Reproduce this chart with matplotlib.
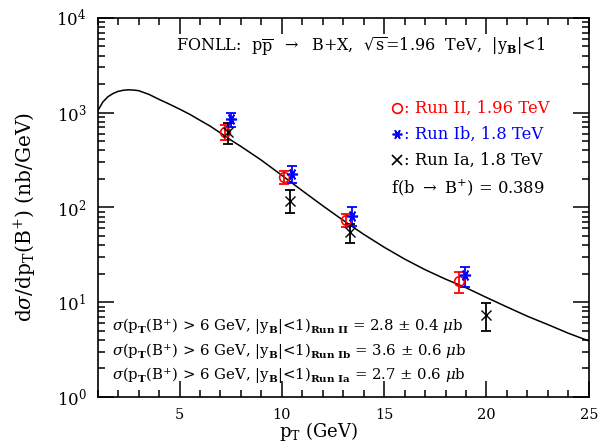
import numpy as np
import matplotlib
matplotlib.use("Agg")
import matplotlib.pyplot as plt
from matplotlib.ticker import MultipleLocator, LogLocator, NullFormatter, LogFormatterMathtext

plt.rcParams['font.family'] = ['DejaVu Serif', 'DejaVu Sans']
plt.rcParams['mathtext.fontset'] = 'dejavuserif'

# FONLL prediction, dsigma/dpT (nb/GeV)
fonll_pt = [1.0, 1.25, 1.5, 1.75, 2.0, 2.25, 2.5, 2.75, 3.0, 3.5, 4.0, 4.5, 5.0, 5.5,
            6.0, 6.5, 7.0, 7.5, 8.0, 9.0, 10.0, 11.0, 12.0, 13.0, 14.0, 15.0, 16.0,
            17.0, 18.0, 19.0, 20.0, 21.0, 22.0, 23.0, 24.0, 25.0]
fonll_xs = [1040, 1290, 1470, 1590, 1675, 1720, 1740, 1730, 1705, 1560, 1380, 1230, 1090, 960,
            830, 720, 610, 515, 440, 315, 218, 150, 104, 73, 52, 38, 28.5,
            22, 17.5, 14.2, 11.2, 8.9, 7.1, 5.8, 4.7, 3.9]

# CDF Run II, 1.96 TeV
run2_pt = [7.22, 10.12, 13.14, 18.64]
run2_xs = [617, 208, 74, 16.9]
run2_lo = [516, 177, 62, 12.4]
run2_hi = [748, 245, 85, 21.0]

# CDF Run Ib, 1.8 TeV
run1b_pt = [7.5, 10.48, 13.41, 18.97]
run1b_xs = [853, 226, 81, 19.4]
run1b_lo = [702, 183, 63, 14.6]
run1b_hi = [1000, 274, 100, 23.4]

# CDF Run Ia, 1.8 TeV
run1a_pt = [7.38, 10.38, 13.35, 19.97]
run1a_xs = [630, 118, 55.6, 7.3]
run1a_lo = [468, 87, 42.5, 5.0]
run1a_hi = [774, 153, 67, 9.75]

fig = plt.figure(figsize=(5.99, 4.46), dpi=100)
ax = fig.add_axes([0.163, 0.110, 0.820, 0.850])

ax.plot(fonll_pt, fonll_xs, color='black', lw=1.1, zorder=2)


def points(pt, xs, lo, hi, color, marker, ms, mfc='none', mew=1.2):
    xs = np.array(xs)
    err = [xs - np.array(lo), np.array(hi) - xs]
    ax.errorbar(pt, xs, yerr=err, fmt='none', ecolor=color, elinewidth=1.3,
                capsize=3.5, capthick=1.3, zorder=3)
    ax.plot(pt, xs, ls='none', marker=marker, ms=ms, mfc=mfc, mec=color,
            mew=mew, color=color, zorder=4)


points(run2_pt, run2_xs, run2_lo, run2_hi, 'red', 'o', 7)
points(run1b_pt, run1b_xs, run1b_lo, run1b_hi, 'blue', (6, 2, 90), 8)
points(run1a_pt, run1a_xs, run1a_lo, run1a_hi, 'black', 'x', 7, mew=1.0)

ax.set_yscale('log')
ax.set_xlim(1, 25)
ax.set_ylim(1, 1e4)

ax.xaxis.set_major_locator(MultipleLocator(5))
ax.xaxis.set_minor_locator(MultipleLocator(1))
ax.yaxis.set_major_locator(LogLocator(base=10, numticks=10))
ax.yaxis.set_minor_locator(LogLocator(base=10, subs=np.arange(2, 10), numticks=10))
ax.yaxis.set_minor_formatter(NullFormatter())
ax.yaxis.set_major_formatter(LogFormatterMathtext())

ax.tick_params(which='both', direction='in', top=True, right=True, width=1.1)
ax.tick_params(which='major', length=11.5, pad=8)
ax.tick_params(which='minor', length=5)
ax.tick_params(axis='x', labelsize=10.5)
ax.tick_params(axis='y', labelsize=12)
for s in ax.spines.values():
    s.set_linewidth(1.2)

ax.set_xlabel(r'p$_{\rm T}$ (GeV)', fontsize=13)
ax.xaxis.set_label_coords(0.449, -0.092)
ax.xaxis.label.set_va('center')
ax.set_ylabel(r'd$\sigma$/dp$_{\rm T}$(B$^{+}$) (nb/GeV)', fontsize=14.5)
ax.yaxis.set_label_coords(-0.148, 0.475)
ax.yaxis.label.set_va('center')

ax.text(0.536, 0.923,
        r'FONLL:  p$\overline{\rm p}$  $\rightarrow$  B+X,  $\sqrt{\rm s}$=1.96  TeV,  |y$_{\bf B}$|<1',
        transform=ax.transAxes, fontsize=11.5, ha='center', va='center')

# legend block
leg_x = 0.610
leg_rows = [(0.762, 'red', ': Run II, 1.96 TeV', 'o'),
            (0.694, 'blue', ': Run Ib, 1.8 TeV', (6, 2, 90)),
            (0.625, 'black', ': Run Ia, 1.8 TeV', 'x')]
for y, c, label, m in leg_rows:
    ax.plot([leg_x], [y], transform=ax.transAxes, marker=m, ms=7, mfc='none',
            mec=c, mew=1.2, ls='none', clip_on=False)
    ax.text(leg_x + 0.014, y, label, transform=ax.transAxes, fontsize=11.8,
            color=c, ha='left', va='center')
ax.text(leg_x - 0.012, 0.552, r'f(b $\rightarrow$ B$^{+}$) = 0.389', transform=ax.transAxes,
        fontsize=11.8, ha='left', va='center')

sig_rows = [(0.185, 'Run\\ II', '2.8', '0.4'),
            (0.120, 'Run\\ Ib', '3.6', '0.6'),
            (0.056, 'Run\\ Ia', '2.7', '0.6')]
for y, run, val, err in sig_rows:
    ax.text(0.030, y,
            r'$\sigma$(p$_{\bf T}$(B$^{+}$) > 6 GeV, |y$_{\bf B}$|<1)$_{\bf ' + run + r'}$ = '
            + val + r' $\pm$ ' + err + r' $\mu$b',
            transform=ax.transAxes, fontsize=10.7, ha='left', va='center')

fig.savefig('out.png', dpi=100)
